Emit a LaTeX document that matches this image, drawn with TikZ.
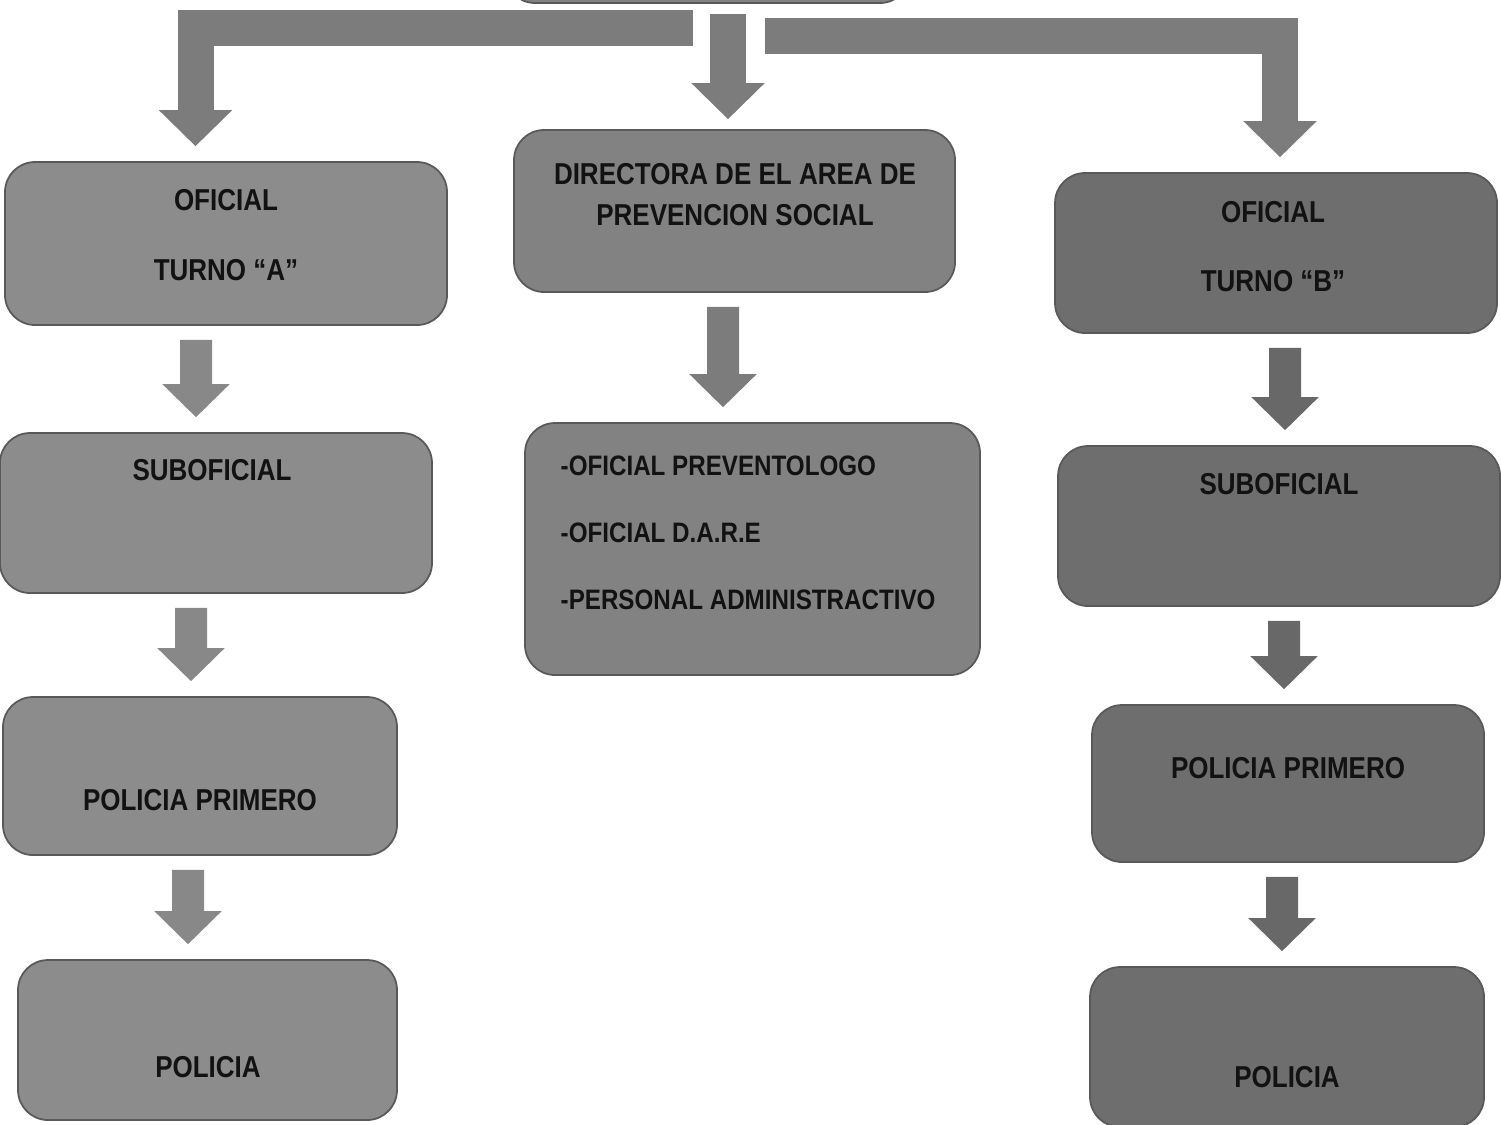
\documentclass[tikz,border=0pt]{standalone}
\usepackage{fontspec}
\setmainfont{Liberation Sans}[FakeStretch=0.86]
\usetikzlibrary{arrows.meta}
\definecolor{grisA}{HTML}{8C8C8C}
\definecolor{grisC}{HTML}{828282}
\definecolor{grisB}{HTML}{6E6E6E}
\definecolor{flechaA}{HTML}{888888}
\definecolor{flechaB}{HTML}{686868}
\definecolor{flechaT}{HTML}{7C7C7C}
\definecolor{tinta}{HTML}{121212}
\tikzset{
    x=0.1mm, y=-0.1mm, % one unit is one pixel of the scanned chart
    }

\begin{document}
\begin{tikzpicture}[
cargo/.style={rectangle, rounded corners=3mm, draw=black!65, line width=0.5pt, inner sep=0pt},
texto/.style={inner sep=0pt, align=center, text=tinta, font=\bfseries\fontsize{8.6pt}{10.3pt}\selectfont},
flecha/.style={line width=3.2mm, shorten <=1.4mm, shorten >=1.5mm, -{Triangle[width=6.7mm, length=3.3mm, line width=0.5pt]}},
flecha grande/.style={line width=3.6mm, shorten >=1.5mm, -{Triangle[width=7.3mm, length=3.6mm, line width=0.5pt]}},
]
\useasboundingbox (0,0) rectangle (1501,1124);

% top box, only its lower edge is on the page
\node[cargo, fill=grisC, minimum width=40.5mm, minimum height=6.3mm] (tope) at (707.5,-28.5) {};

% turno A
\node[cargo, fill=grisA, minimum width=44.2mm, minimum height=16.3mm] (oficialA) at (226,243.5) {};
\node[cargo, fill=grisA, minimum width=43.2mm, minimum height=16mm] (subA) at (216,513) {};
\node[cargo, fill=grisA, minimum width=39.4mm, minimum height=15.8mm] (primeroA) at (200,776) {};
\node[cargo, fill=grisA, minimum width=37.9mm, minimum height=16mm] (policiaA) at (207.5,1040) {};

% prevencion social
\node[cargo, fill=grisC, minimum width=44.1mm, minimum height=16.2mm] (directora) at (734.5,211) {};
\node[cargo, fill=grisC, minimum width=45.5mm, minimum height=25.2mm] (personal) at (752.5,549) {};

% turno B
\node[cargo, fill=grisB, minimum width=44.2mm, minimum height=16mm] (oficialB) at (1276,253) {};
\node[cargo, fill=grisB, minimum width=44.2mm, minimum height=16mm] (subB) at (1279,526) {};
\node[cargo, fill=grisB, minimum width=39.2mm, minimum height=15.7mm] (primeroB) at (1288,783.5) {};
\node[cargo, fill=grisB, minimum width=39.4mm, minimum height=16mm] (policiaB) at (1287,1047) {};

\node[texto] (tOficialA) at (226,235) {OFICIAL\\[9.6pt]TURNO “A”};
\node[texto] (tSubA) at (212,470) {SUBOFICIAL};
\node[texto] (tPrimeroA) at (200,800) {POLICIA PRIMERO};
\node[texto] (tPoliciaA) at (208,1067) {POLICIA};
\node[texto] (tDirectora) at (735,194.5) {DIRECTORA DE EL AREA DE\\[1.4pt]PREVENCION SOCIAL};
\node[texto, align=left, anchor=west, font=\bfseries\fontsize{8pt}{9.6pt}\selectfont] (tPersonal) at (560,533) {-OFICIAL PREVENTOLOGO\\[9.5pt]-OFICIAL D.A.R.E\\[9.5pt]-PERSONAL ADMINISTRACTIVO};
\node[texto] (tOficialB) at (1273,246.5) {OFICIAL\\[9.3pt]TURNO “B”};
\node[texto] (tSubB) at (1279,484) {SUBOFICIAL};
\node[texto] (tPrimeroB) at (1288,768) {POLICIA PRIMERO};
\node[texto] (tPoliciaB) at (1287,1077) {POLICIA};

% branches from the top box
\draw[flecha grande, draw=flechaT] ([xshift=-1.45mm, yshift=-2.4mm]tope.south) -| ([xshift=-3.05mm]oficialA.north);
\draw[flecha grande, draw=flechaT, shorten <=1mm, shorten >=1mm] ([xshift=2.05mm]tope.south) -- ([xshift=2.05mm]tope.south |- directora.north);
\draw[flecha grande, draw=flechaT] ([xshift=5.75mm, yshift=-3.2mm]tope.south) -| ([xshift=0.4mm]oficialB.north);

\draw[flecha, draw=flechaA] ([xshift=-3mm]oficialA.south) -- ([xshift=-2mm]subA.north);
\draw[flecha, draw=flechaA] ([xshift=-2.5mm]subA.south) -- ([xshift=-0.9mm]primeroA.north);
\draw[flecha, draw=flechaA] ([xshift=-1.2mm]primeroA.south) -- ([xshift=-1.95mm]policiaA.north);
\draw[flecha, draw=flechaT] ([xshift=-1.15mm]directora.south) -- ([xshift=-2.95mm]personal.north);
\draw[flecha, draw=flechaB] ([xshift=0.9mm]oficialB.south) -- ([xshift=0.6mm]subB.north);
\draw[flecha, draw=flechaB] ([xshift=0.5mm]subB.south) -- ([xshift=-0.4mm]primeroB.north);
\draw[flecha, draw=flechaB] ([xshift=-0.6mm]primeroB.south) -- ([xshift=-0.5mm]policiaB.north);
\end{tikzpicture}
\end{document}
